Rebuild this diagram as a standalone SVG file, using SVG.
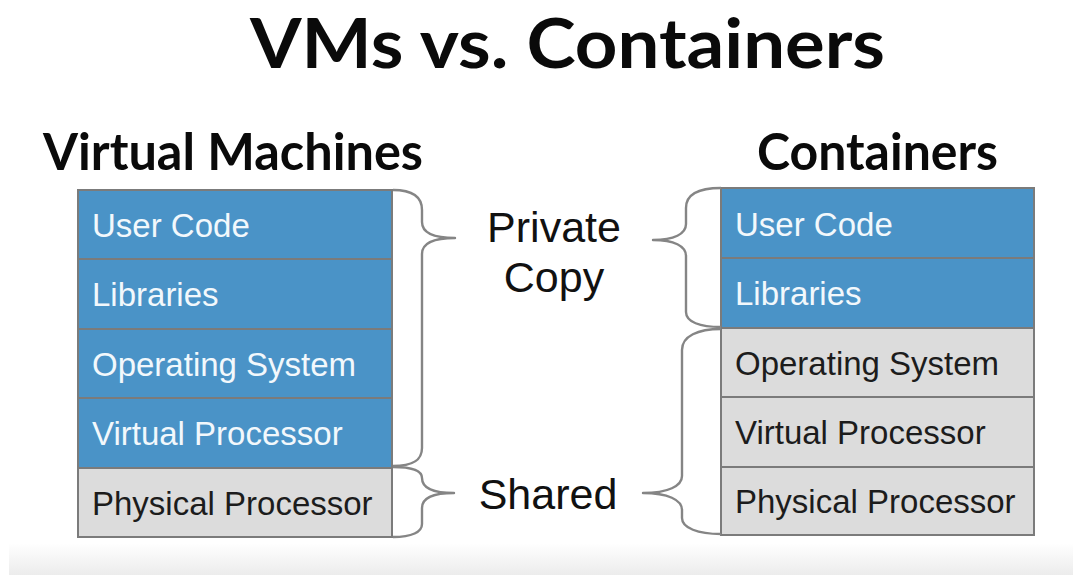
<svg xmlns="http://www.w3.org/2000/svg" width="1073" height="575" viewBox="0 0 1073 575">
  <defs>
    <linearGradient id="floor" x1="0" y1="0" x2="0" y2="1">
      <stop offset="0" stop-color="#ffffff"/>
      <stop offset="1" stop-color="#ececec"/>
    </linearGradient>
    <style>
      .title { font-family: Lato, "Open Sans", sans-serif; font-weight: 700; fill: #0a0a0a; }
      .layer { stroke: #7b7b7b; stroke-width: 2; }
      .blue { fill: #4a93c7; }
      .grey { fill: #dcdcdc; }
      .lbl { font-family: "Liberation Sans", Arial, sans-serif; font-size: 33px; }
      .lbl-light { fill: #f2f8fc; }
      .lbl-dark { fill: #1c1c1c; }
      .note { font-family: "Liberation Sans", Arial, sans-serif; font-size: 43px; fill: #111; text-anchor: middle; }
      .brace { fill: none; stroke: #858585; stroke-width: 2.4; stroke-linejoin: round; }
    </style>
  </defs>

  <rect width="1073" height="575" fill="#ffffff"/>
  <rect x="9" y="543" width="1064" height="32" fill="url(#floor)"/>

  <!-- headings -->
  <text class="title" x="250" y="68" font-size="68" textLength="635" lengthAdjust="spacingAndGlyphs">VMs vs. Containers</text>
  <text class="title" x="43" y="170" font-size="51" textLength="380" lengthAdjust="spacingAndGlyphs">Virtual Machines</text>
  <text class="title" x="757" y="170" font-size="51" textLength="241" lengthAdjust="spacingAndGlyphs">Containers</text>

  <!-- virtual machine stack -->
  <g id="vm-user-code">
    <rect class="layer blue" x="78" y="190" width="314" height="69"/>
    <text class="lbl lbl-light" x="92" y="237">User Code</text>
  </g>
  <g id="vm-libraries">
    <rect class="layer blue" x="78" y="259" width="314" height="70"/>
    <text class="lbl lbl-light" x="92" y="306">Libraries</text>
  </g>
  <g id="vm-operating-system">
    <rect class="layer blue" x="78" y="329" width="314" height="69"/>
    <text class="lbl lbl-light" x="92" y="376">Operating System</text>
  </g>
  <g id="vm-virtual-processor">
    <rect class="layer blue" x="78" y="398" width="314" height="70"/>
    <text class="lbl lbl-light" x="92" y="445">Virtual Processor</text>
  </g>
  <g id="vm-physical-processor">
    <rect class="layer grey" x="78" y="468" width="314" height="69"/>
    <text class="lbl lbl-dark" x="92" y="515">Physical Processor</text>
  </g>

  <!-- container stack -->
  <g id="ct-user-code">
    <rect class="layer blue" x="721" y="188" width="313" height="70"/>
    <text class="lbl lbl-light" x="735" y="236">User Code</text>
  </g>
  <g id="ct-libraries">
    <rect class="layer blue" x="721" y="258" width="313" height="70"/>
    <text class="lbl lbl-light" x="735" y="305">Libraries</text>
  </g>
  <g id="ct-operating-system">
    <rect class="layer grey" x="721" y="328" width="313" height="69"/>
    <text class="lbl lbl-dark" x="735" y="375">Operating System</text>
  </g>
  <g id="ct-virtual-processor">
    <rect class="layer grey" x="721" y="397" width="313" height="70"/>
    <text class="lbl lbl-dark" x="735" y="444">Virtual Processor</text>
  </g>
  <g id="ct-physical-processor">
    <rect class="layer grey" x="721" y="467" width="313" height="68"/>
    <text class="lbl lbl-dark" x="735" y="513">Physical Processor</text>
  </g>

  <!-- labels between the stacks -->
  <g id="label-private">
    <text class="note" x="554" y="242">Private</text>
    <text class="note" x="554" y="292">Copy</text>
  </g>
  <g id="label-shared">
    <text class="note" x="548" y="509">Shared</text>
  </g>

  <!-- braces -->
  <g id="connectors">
    <path class="brace" d="M393,190 C412,190 422,196 422,210 L422,222 C422,233 434,238 455,238 C434,238 422,243 422,254 L422,448 C422,461 412,466 393,466"/>
    <path class="brace" d="M393,467 C412,467 422,471 422,478 C422,487 432,493 454,493 C432,493 422,499 422,508 L422,524 C422,532 412,537 393,537"/>
    <path class="brace" d="M721,188 C700,188 686,194 686,208 L686,224 C686,234 674,240 653,240 C674,240 686,246 686,256 L686,312 C686,322 700,327 721,327"/>
    <path class="brace" d="M721,329 C698,329 682,336 682,350 L682,476 C682,486 668,493 643,493 C668,493 682,500 682,510 L682,518 C682,528 698,534 721,534"/>
  </g>
</svg>
